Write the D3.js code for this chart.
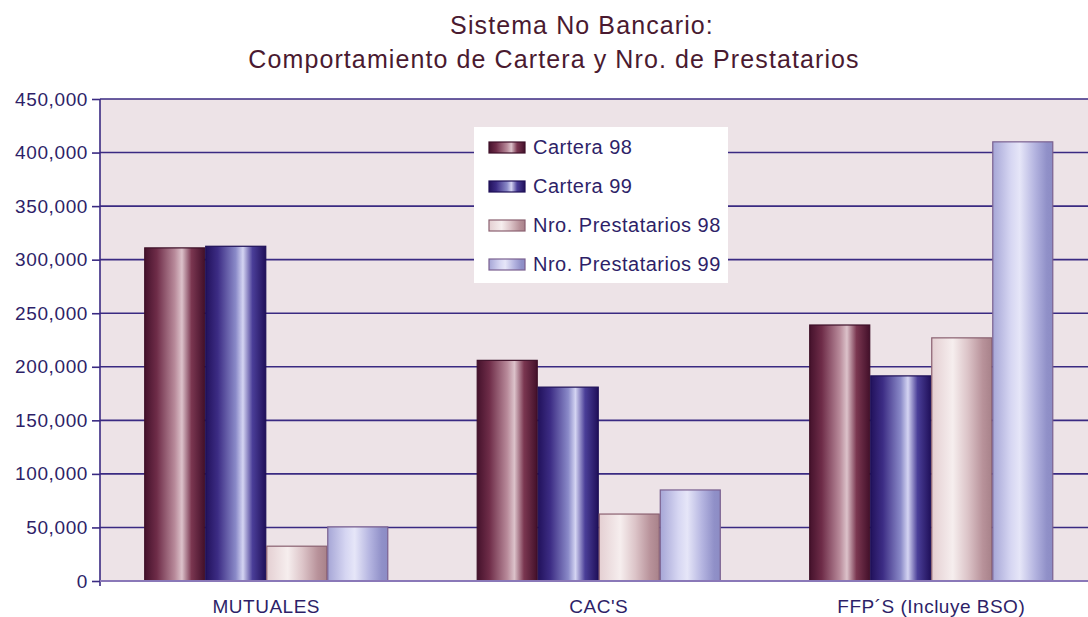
<!DOCTYPE html>
<html><head><meta charset="utf-8">
<script src="https://cdn.jsdelivr.net/npm/d3@7"></script>
<style>body{margin:0;background:#fff}svg{display:block;font-family:"Liberation Sans",Arial,sans-serif}</style>
</head><body>
<svg id="c" width="1088" height="617"></svg>
<script>
const categories = ["MUTUALES", "CAC'S", "FFP´S (Incluye BSO)"];
const seriesNames = ["Cartera 98", "Cartera 99", "Nro. Prestatarios 98", "Nro. Prestatarios 99"];
const cartera98 = [311000, 206000, 239000];
const cartera99 = [312500, 181000, 191500];
const prestatarios98 = [32500, 62500, 227000];
const prestatarios99 = [50500, 85000, 410000];
const yTicks = [0, 50000, 100000, 150000, 200000, 250000, 300000, 350000, 400000, 450000];
const titleLines = ["Sistema No Bancario:", "Comportamiento de Cartera y Nro. de Prestatarios"];

const seriesValues = [cartera98, cartera99, prestatarios98, prestatarios99];
const svg = d3.select("#c");
const L = 100, R = 1097.5, T = 99, B = 581;
const txt = "#2e1f68";

const defs = svg.append("defs");
const grads = [
  [[0,"#45122c"],[0.2,"#6e2c48"],[0.5,"#b88a9a"],[0.62,"#dcc2ca"],[0.78,"#7a3650"],[1,"#43102a"]],
  [[0,"#22125c"],[0.2,"#3c2c84"],[0.5,"#8a8ac8"],[0.62,"#d4d4f2"],[0.78,"#4a3e98"],[1,"#20105a"]],
  [[0,"#e4cfd2"],[0.35,"#f6eeee"],[0.6,"#dcc4c8"],[0.85,"#b8929a"],[1,"#a8828a"]],
  [[0,"#a6a6d6"],[0.3,"#d6d6f2"],[0.45,"#e6e6f8"],[0.7,"#b4b4e0"],[0.9,"#9090c8"],[1,"#8c8cc4"]]
];
const strokes = ["#3e1028", "#1e1058", "#8a6070", "#7a6090"];
grads.forEach((g,i)=>{
  const lg = defs.append("linearGradient").attr("id","g"+i).attr("x1",0).attr("x2",1).attr("y1",0).attr("y2",0);
  g.forEach(s=>lg.append("stop").attr("offset",s[0]).attr("stop-color",s[1]));
});

svg.append("rect").attr("x",L).attr("y",T).attr("width",R-L).attr("height",B-T).attr("fill","#ede3e7");

const y = d3.scaleLinear().domain([0,450000]).range([B,T]);
const x0 = d3.scaleBand().domain(categories).range([L,R]).paddingInner(0.266).paddingOuter(0.133);
const x1 = d3.scaleBand().domain(seriesNames).range([0,x0.bandwidth()]);

svg.append("g").selectAll("line").data(yTicks.filter(d=>d>0)).join("line")
  .attr("x1",L).attr("x2",R).attr("y1",d=>y(d)).attr("y2",d=>y(d))
  .attr("stroke","#3a2a82").attr("stroke-width",1.6);

const yAxis = d3.axisLeft(y).tickValues(yTicks).tickSize(8).tickPadding(4).tickFormat(d3.format(","));
const ya = svg.append("g").attr("transform",`translate(${L},0)`).call(yAxis);
ya.select(".domain").attr("stroke","#3a2a82").attr("stroke-width",1.6).attr("d",`M0,${T}V${B+5}`);
ya.selectAll(".tick line").attr("stroke","#3a2a82").attr("stroke-width",1.6);
ya.selectAll(".tick text").attr("fill",txt).attr("font-size",19).attr("letter-spacing",0.6)
  .attr("font-family","Liberation Sans, Arial, sans-serif");

const g = svg.append("g");
categories.forEach((c,ci)=>{
  seriesNames.forEach((s,si)=>{
    const v = seriesValues[si][ci];
    g.append("rect")
      .attr("x", x0(c)+x1(s)+0.5).attr("y", y(v))
      .attr("width", x1.bandwidth()-1).attr("height", B - y(v))
      .attr("fill", `url(#g${si})`).attr("stroke", strokes[si]).attr("stroke-width",1.2);
  });
});

svg.append("line").attr("x1",L).attr("x2",R).attr("y1",B).attr("y2",B).attr("stroke","#8a78b8").attr("stroke-width",2);

const xAxis = d3.axisBottom(x0).tickSize(0).tickPadding(19);
const xa = svg.append("g").attr("transform",`translate(0,${B})`).call(xAxis);
xa.select(".domain").remove();
xa.selectAll(".tick text").attr("fill",txt).attr("font-size",19).attr("letter-spacing",0.5)
  .attr("font-family","Liberation Sans, Arial, sans-serif");

svg.append("g").selectAll("text").data(titleLines).join("text")
  .attr("x",(d,i)=>i===0?582:554).attr("y",(d,i)=>34+i*34).attr("text-anchor","middle")
  .attr("fill","#4a1a30").attr("font-size",25).attr("letter-spacing",1.1).text(d=>d);

const lg = svg.append("g").attr("transform","translate(474,127)");
lg.append("rect").attr("width",254).attr("height",156).attr("fill","#ffffff");
seriesNames.forEach((s,i)=>{
  const row = lg.append("g").attr("transform",`translate(0,${20+i*39})`);
  row.append("rect").attr("x",15).attr("y",-5).attr("width",36).attr("height",11)
    .attr("fill",`url(#g${i})`).attr("stroke",strokes[i]).attr("stroke-width",1.2);
  row.append("text").attr("x",59).attr("y",7).attr("fill",txt).attr("font-size",20).attr("letter-spacing",0.5).text(s);
});
</script>
</body></html>
